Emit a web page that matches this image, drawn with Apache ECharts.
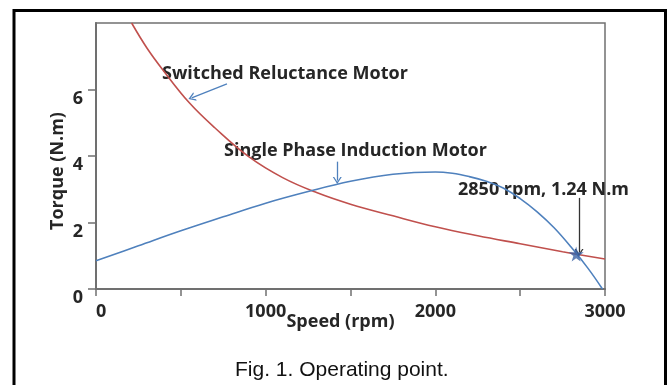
<!DOCTYPE html>
<html>
<head>
<meta charset="utf-8">
<title>Operating point</title>
<script src="https://cdn.jsdelivr.net/npm/echarts@6/dist/echarts.min.js"></script>
<style>
  html, body { margin: 0; padding: 0; background: #fff; }
  #main { width: 668px; height: 385px; }
</style>
</head>
<body>
<div id="main"></div>
<script>
// torque curves: [speed rpm, torque N.m]
var srmCurve = [
  [210, 8.0], [300, 7.25], [400, 6.55], [550, 5.6], [700, 4.85], [900, 3.98],
  [1100, 3.35], [1300, 2.9], [1500, 2.55], [1750, 2.2], [2000, 1.87],
  [2250, 1.6], [2500, 1.36], [2750, 1.12], [3000, 0.9]
];
var spimCurve = [
  [0, 0.85], [250, 1.3], [500, 1.75], [750, 2.17], [1000, 2.58], [1250, 2.93],
  [1500, 3.24], [1750, 3.45], [2000, 3.52], [2100, 3.48], [2200, 3.38],
  [2300, 3.24], [2400, 3.04], [2500, 2.72], [2600, 2.32], [2700, 1.84],
  [2800, 1.26], [2900, 0.62], [2985, 0]
];
var operatingPoint = [[2830, 1.05]];

var xTicks = [0, 1000, 2000, 3000];
var yTicks = [0, 2, 4, 6];

// annotation arrows (from -> to), in data units
var srmArrow = [[772, 6.17], [564, 5.75]];
var spimArrow = [[1422, 3.83], [1422, 3.26]];
var opArrow = [[2847, 2.74], [2847, 1.1]];

var chevron = 'path://M0,10 L5,0 L10,10 L8.4,10 L5,3.2 L1.6,10 Z';
var boldFont = 'bold 18px "Open Sans"';
var textColor = '#262626';
var axisColor = '#707070';

function arrow(pair, color) {
  return [
    { coord: pair[0], symbol: 'none' },
    { coord: pair[1], symbol: chevron, symbolSize: [9, 7], lineStyle: { color: color } }
  ];
}

var myChart = echarts.init(document.getElementById('main'));
myChart.setOption({
  animation: false,
  title: {
    text: 'Fig. 1. Operating point.',
    left: 230,
    top: 355,
    textStyle: { fontFamily: 'Liberation Sans', fontWeight: 'normal', fontSize: 21, color: '#111' }
  },
  grid: {
    left: 96, right: 63, top: 23, bottom: 96,
    show: true, borderColor: axisColor, borderWidth: 1.5, backgroundColor: 'transparent'
  },
  xAxis: {
    type: 'value',
    min: 0, max: 3000, interval: 500,
    name: 'Speed (rpm)',
    nameLocation: 'middle',
    nameGap: 24,
    nameMoveOverlap: false,
    nameTextStyle: { fontFamily: 'Open Sans', fontWeight: 'bold', fontSize: 18, color: textColor, padding: [0, 20, 0, 0] },
    axisLine: { lineStyle: { color: axisColor, width: 2 } },
    axisTick: { show: true, length: 7, lineStyle: { color: axisColor, width: 1.5 } },
    axisLabel: {
      customValues: xTicks,
      margin: 14,
      alignMinLabel: 'left',
      formatter: function (v) { return String(v); },
      fontFamily: 'Open Sans', fontWeight: 'bold', fontSize: 18, color: textColor
    },
    splitLine: { show: false }
  },
  yAxis: {
    type: 'value',
    min: 0, max: 8, interval: 2,
    name: 'Torque (N.m)',
    nameLocation: 'middle',
    nameGap: 29,
    nameMoveOverlap: false,
    nameTextStyle: { fontFamily: 'Open Sans', fontWeight: 'bold', fontSize: 18, color: textColor, padding: [0, 30, 0, 0] },
    axisLine: { show: true, lineStyle: { color: axisColor, width: 2 } },
    axisTick: { show: true, length: 8, customValues: yTicks, lineStyle: { color: axisColor, width: 1.5 } },
    axisLabel: {
      customValues: yTicks,
      margin: 13,
      verticalAlign: 'top',
      lineHeight: 18,
      fontFamily: 'Open Sans', fontWeight: 'bold', fontSize: 18, color: textColor
    },
    splitLine: { show: false }
  },
  series: [
    {
      name: 'Switched Reluctance Motor',
      type: 'line',
      data: srmCurve,
      smooth: 0.4,
      showSymbol: false,
      lineStyle: { color: '#c0504d', width: 1.6 },
      markLine: {
        silent: true,
        label: { show: false },
        lineStyle: { color: '#4f81bd', width: 1.3, type: 'solid' },
        data: [arrow(srmArrow, '#4f81bd')]
      }
    },
    {
      name: 'Single Phase Induction Motor',
      type: 'line',
      data: spimCurve,
      smooth: 0.4,
      showSymbol: false,
      lineStyle: { color: '#4f81bd', width: 1.6 },
      markLine: {
        silent: true,
        label: { show: false },
        lineStyle: { color: '#4f81bd', width: 1.3, type: 'solid' },
        data: [arrow(spimArrow, '#4f81bd')]
      }
    },
    {
      name: 'Operating point',
      type: 'scatter',
      data: operatingPoint,
      symbol: 'path://M50,0 L61,35 L98,35 L68,57 L79,91 L50,70 L21,91 L32,57 L2,35 L39,35 Z',
      symbolSize: 15,
      itemStyle: { color: '#3a62a5' },
      z: 5,
      markLine: {
        silent: true,
        label: { show: false },
        lineStyle: { color: '#333', width: 1.3, type: 'solid' },
        data: [arrow(opArrow, '#333')]
      }
    }
  ],
  graphic: [
    {
      type: 'rect',
      shape: { x: 14, y: 10.5, width: 651.5, height: 400 },
      style: { fill: 'none', stroke: '#000', lineWidth: 3 },
      silent: true
    },
    {
      type: 'text', x: 162, y: 74,
      style: { text: 'Switched Reluctance Motor', font: boldFont, fill: textColor, verticalAlign: 'middle' }
    },
    {
      type: 'text', x: 224, y: 151,
      style: { text: 'Single Phase Induction Motor', font: boldFont, fill: textColor, verticalAlign: 'middle' }
    },
    {
      type: 'text', x: 458, y: 190,
      style: { text: '2850 rpm, 1.24 N.m', font: boldFont, fill: textColor, verticalAlign: 'middle' }
    }
  ]
});
</script>
</body>
</html>
